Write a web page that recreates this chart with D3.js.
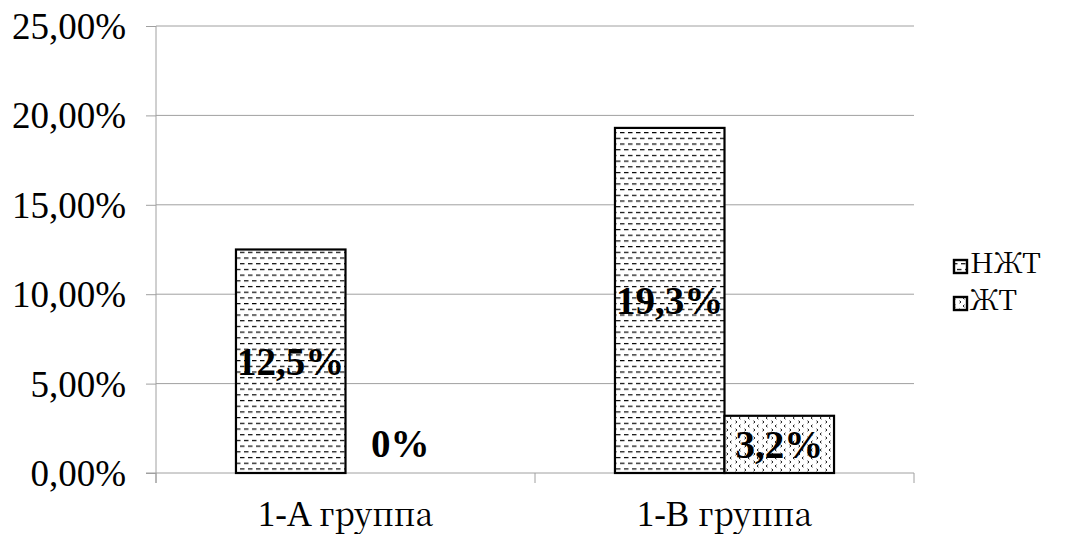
<!DOCTYPE html>
<html>
<head>
<meta charset="utf-8">
<script src="https://cdn.jsdelivr.net/npm/d3@7"></script>
<style>
  html, body { margin: 0; padding: 0; background: #fff; }
  svg { display: block; }
</style>
</head>
<body>
<script>
// Chart data
const categories = ["1-A группа", "1-B группа"];
const seriesNames = ["НЖТ", "ЖТ"];
const valuesNZhT = [12.5, 19.3];
const valuesZhT = [0, 3.2];
const valueLabelsNZhT = ["12,5%", "19,3%"];
const valueLabelsZhT = ["0%", "3,2%"];
const yTicks = [0, 5, 10, 15, 20, 25];
const yTickLabels = ["0,00%", "5,00%", "10,00%", "15,00%", "20,00%", "25,00%"];

const FONT = "'Liberation Serif', 'Times New Roman', serif";
const FONT_CYR = "'Noto Serif CJK SC', 'DejaVu Serif Condensed', serif";
const W = 1075, H = 534;
const plot = { left: 156, right: 914, top: 26, bottom: 473 };
const AXIS = "#a0a0a0";

// Write a string as tspans so Cyrillic runs use a serif face that carries them
function serifText(sel, str, latinSize, cyrSize) {
  sel.text(null);
  const runs = str.match(/[\u0400-\u04FF]+|[^\u0400-\u04FF]+/g) || [];
  runs.forEach(r => {
    const cyr = /[\u0400-\u04FF]/.test(r);
    sel.append("tspan").text(r)
      .style("font-family", cyr ? FONT_CYR : FONT)
      .style("font-size", (cyr ? cyrSize : latinSize) + "px");
  });
}

const svg = d3.select("body").append("svg").attr("width", W).attr("height", H)
  .style("font-family", FONT);

// Fill patterns: dashed rows for НЖТ, scattered small chevrons for ЖТ
const defs = svg.append("defs");
const pDash = defs.append("pattern").attr("id", "pat-nzht")
  .attr("patternUnits", "userSpaceOnUse").attr("width", 8).attr("height", 11.4);
pDash.append("rect").attr("width", 8).attr("height", 11.4).attr("fill", "#fff");
pDash.append("path").attr("d", "M0,1.5h4.5 M4,7.2h4.5 M0,7.2h0.5")
  .attr("stroke", "#000").attr("stroke-width", 1.1).attr("fill", "none");

const pDot = defs.append("pattern").attr("id", "pat-zht")
  .attr("patternUnits", "userSpaceOnUse").attr("width", 9).attr("height", 8);
pDot.append("rect").attr("width", 9).attr("height", 8).attr("fill", "#fff");
pDot.append("path").attr("d", "M2.5,0.8 L1,2 L2.5,3.2 M6.5,4.8 L8,6 L6.5,7.2")
  .attr("stroke", "#000").attr("stroke-width", 0.9).attr("fill", "none");

const patterns = ["url(#pat-nzht)", "url(#pat-zht)"];

const y = d3.scaleLinear().domain([0, 25]).range([plot.bottom, plot.top]);
const x0 = d3.scaleBand().domain(categories).range([plot.left, plot.right])
  .paddingInner(0.422).paddingOuter(0.211);
const x1 = d3.scaleBand().domain(seriesNames).range([0, x0.bandwidth()]);

// Horizontal gridlines
svg.append("g").selectAll("line").data(yTicks.filter(d => d > 0)).join("line")
  .attr("x1", plot.left).attr("x2", plot.right)
  .attr("y1", d => y(d)).attr("y2", d => y(d))
  .attr("stroke", AXIS).attr("stroke-width", 1);

// Y axis
const yAxis = svg.append("g").attr("transform", `translate(${plot.left},0)`)
  .call(d3.axisLeft(y).tickValues(yTicks).tickFormat((d, i) => yTickLabels[i])
    .tickSize(10).tickSizeOuter(0).tickPadding(20))
  .attr("font-family", null).attr("font-size", null);
yAxis.select(".domain").attr("stroke", AXIS).attr("d", `M0,${plot.top}V${plot.bottom + 10}`);
yAxis.selectAll(".tick line").attr("stroke", AXIS);
yAxis.selectAll(".tick text").attr("dy", "0.34em")
  .style("font-family", FONT).style("font-size", "37px");

// X axis with category separators
const xAxis = svg.append("g").attr("transform", `translate(0,${plot.bottom})`);
xAxis.append("line").attr("x1", plot.left - 10).attr("x2", plot.right)
  .attr("stroke", AXIS);
const boundaries = [plot.left, (plot.left + plot.right) / 2, plot.right];
xAxis.selectAll("line.sep").data(boundaries).join("line").attr("class", "sep")
  .attr("x1", d => d).attr("x2", d => d).attr("y1", 0).attr("y2", 10)
  .attr("stroke", AXIS);
xAxis.selectAll("text.cat").data(categories).join("text").attr("class", "cat")
  .attr("x", d => x0(d) + x0.bandwidth() / 2).attr("y", 53)
  .attr("text-anchor", "middle")
  .each(function (d) { serifText(d3.select(this), d, 35, 32); });

// Bars
const seriesValues = [valuesNZhT, valuesZhT];
const seriesLabels = [valueLabelsNZhT, valueLabelsZhT];
const barData = [];
categories.forEach((c, ci) => {
  seriesNames.forEach((s, si) => {
    barData.push({ cat: c, series: s, si, value: seriesValues[si][ci], label: seriesLabels[si][ci] });
  });
});

const bars = svg.append("g");
bars.selectAll("rect").data(barData.filter(d => d.value > 0)).join("rect")
  .attr("x", d => x0(d.cat) + x1(d.series))
  .attr("y", d => y(d.value))
  .attr("width", x1.bandwidth())
  .attr("height", d => y(0) - y(d.value))
  .attr("fill", d => patterns[d.si])
  .attr("stroke", "#000").attr("stroke-width", 2.2);

// Value labels at bar centres (zero value sits just above the axis)
bars.selectAll("text").data(barData).join("text")
  .attr("x", d => x0(d.cat) + x1(d.series) + x1.bandwidth() / 2)
  .attr("y", d => d.value > 0 ? (y(d.value) + y(0)) / 2 : y(0) - 30)
  .attr("dy", "0.35em")
  .attr("text-anchor", "middle")
  .style("font-family", FONT).style("font-weight", "bold").style("font-size", "39px")
  .text(d => d.label);

// Legend
const legend = svg.append("g").attr("transform", "translate(953,0)");
const legY = [267, 304];
seriesNames.forEach((s, i) => {
  legend.append("rect").attr("x", 1).attr("y", legY[i] - 7).attr("width", 13).attr("height", 13)
    .attr("fill", patterns[i]).attr("stroke", "#000").attr("stroke-width", 2.4);
  legend.append("text").attr("x", 17).attr("y", legY[i]).attr("dy", "0.36em")
    .call(t => serifText(t, s, 30, 28));
});
</script>
</body>
</html>
